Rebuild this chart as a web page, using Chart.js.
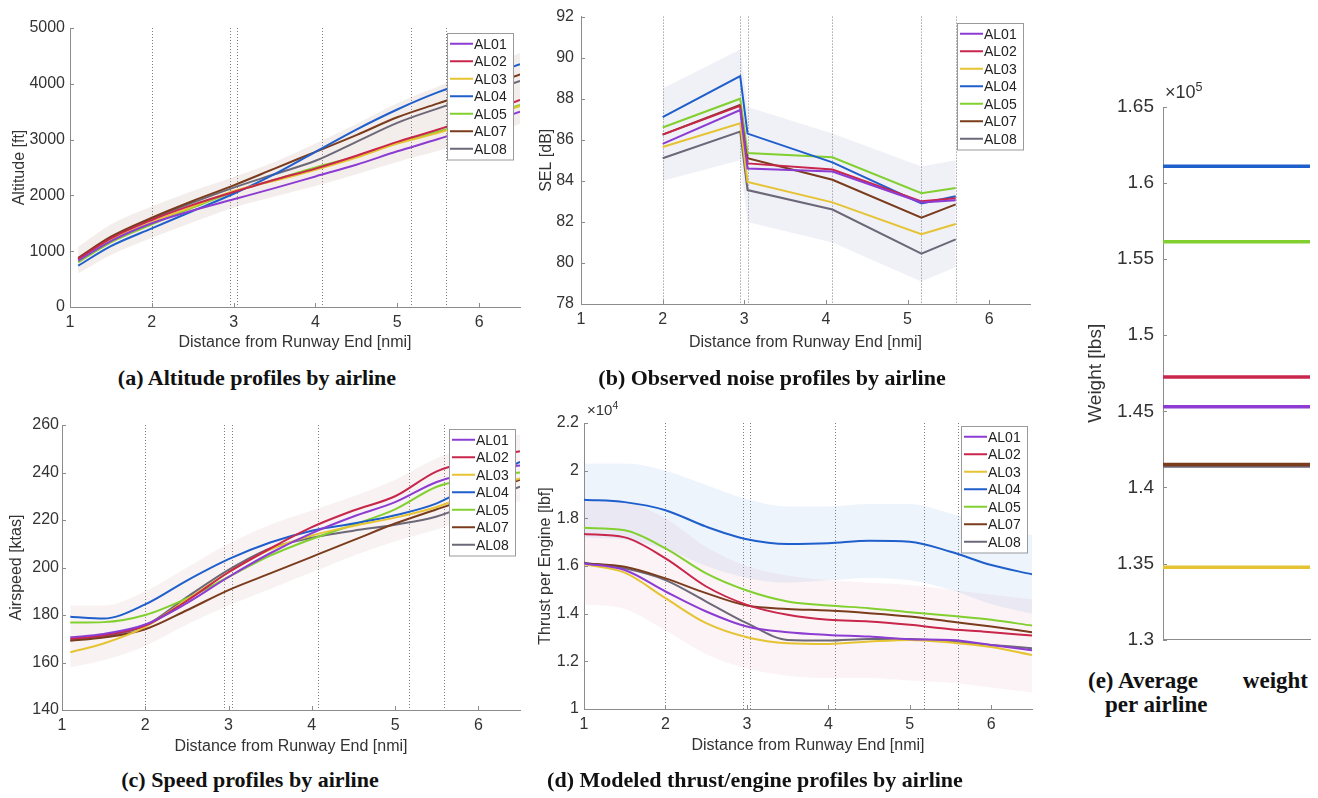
<!DOCTYPE html>
<html>
<head>
<meta charset="utf-8">
<script src="https://cdn.jsdelivr.net/npm/chart.js@4.4.1/dist/chart.umd.min.js"></script>
<style>
body { margin: 0; background: #fff; width: 1318px; height: 798px; position: relative; overflow: hidden; font-family: "Liberation Sans", Arial, sans-serif; }
canvas { position: absolute; }
.cap { position: absolute; font-family: "Liberation Serif", "Times New Roman", serif; font-weight: bold; font-size: 22px; color: #111; white-space: nowrap; transform: translate(-50%, -50%); }
.exp { position: absolute; color: #333; white-space: nowrap; }
.exp sup { font-size: 70%; }
.capE { position: absolute; font-family: "Liberation Serif", "Times New Roman", serif; font-weight: bold; font-size: 23px; line-height: 25px; color: #111; white-space: nowrap; }
</style>
</head>
<body>
<canvas id="alt" width="530" height="360" style="left:0;top:0"></canvas>
<canvas id="sel" width="520" height="360" style="left:520px;top:0"></canvas>
<canvas id="spd" width="530" height="360" style="left:0;top:400px"></canvas>
<canvas id="thr" width="520" height="360" style="left:520px;top:400px"></canvas>
<canvas id="wgt" width="258" height="600" style="left:1060px;top:60px"></canvas>

<div class="exp" style="left:587px;top:399px;font-size:15px">×10<sup>4</sup></div>
<div class="exp" style="left:1165px;top:80px;font-size:18px">×10<sup>5</sup></div>

<div class="cap" style="left:257px;top:378px">(a) Altitude profiles by airline</div>
<div class="cap" style="left:772px;top:378px">(b) Observed noise profiles by airline</div>
<div class="cap" style="left:250px;top:780px">(c) Speed profiles by airline</div>
<div class="cap" style="left:755px;top:780px">(d) Modeled thrust/engine profiles by airline</div>
<div class="capE" style="left:1088px;top:668px;width:220px;display:flex;justify-content:space-between"><span>(e) Average</span><span>weight</span></div>
<div class="capE" style="left:1105px;top:692px">per airline</div>

<script>
// airlines and colours
var airlines = ['AL01', 'AL02', 'AL03', 'AL04', 'AL05', 'AL07', 'AL08'];
var colors = ['#8c3cd2', '#c9264c', '#e6c332', '#1f5fcc', '#82d030', '#7a3c1c', '#6c6878'];

// x positions
var distSmooth = [1.1, 1.5, 2, 2.5, 3, 3.5, 4, 4.5, 5, 5.5, 6, 6.5];
var distThrust = [1, 1.5, 2, 2.5, 3, 3.5, 4, 4.5, 5, 5.5, 6, 6.5];
var monitorDist = [2.0, 2.95, 3.04, 4.08, 5.17, 5.59];
var distTicks = [1, 2, 3, 4, 5, 6];

// (a) altitude [ft]
var altitudeFt = [
    [830, 1180, 1500, 1730, 1930, 2130, 2340, 2550, 2790, 3010, 3250, 3500],
    [860, 1230, 1560, 1830, 2060, 2280, 2480, 2710, 2960, 3180, 3440, 3710],
    [840, 1200, 1520, 1800, 2080, 2260, 2460, 2680, 2930, 3120, 3370, 3600],
    [740, 1090, 1410, 1720, 2030, 2380, 2780, 3180, 3540, 3850, 4100, 4350],
    [800, 1160, 1480, 1780, 2060, 2280, 2500, 2700, 2940, 3140, 3380, 3620],
    [880, 1260, 1600, 1900, 2180, 2480, 2780, 3080, 3400, 3650, 3900, 4170],
    [850, 1240, 1580, 1870, 2140, 2380, 2620, 2960, 3300, 3560, 3800, 4050]
];
var altBandHi = [1080, 1480, 1800, 2080, 2330, 2600, 2930, 3280, 3650, 3950, 4250, 4550];
var altBandLo = [600, 930, 1240, 1520, 1780, 1980, 2170, 2380, 2600, 2800, 3030, 3280];
var altTicks = [0, 1000, 2000, 3000, 4000, 5000];

// (b) SEL [dB] at monitors
var selDb = [
    [85.8, 87.45, 84.6, 84.45, 82.95, 83.05],
    [86.25, 87.65, 84.85, 84.55, 83.0, 83.15],
    [85.65, 86.8, 83.95, 82.95, 81.4, 81.9],
    [87.1, 89.1, 86.3, 84.9, 82.9, 83.25],
    [86.6, 88.0, 85.35, 85.15, 83.4, 83.65],
    [86.25, 87.7, 85.1, 84.05, 82.2, 82.85],
    [85.1, 86.4, 83.55, 82.6, 80.45, 81.15]
];
var selBandHi = [88.5, 90.4, 87.6, 86.3, 84.7, 85.0];
var selBandLo = [84.0, 85.0, 82.0, 81.0, 79.1, 79.8];
var selTicks = [78, 80, 82, 84, 86, 88, 90, 92];

// (c) airspeed [ktas]
var speedKtas = [
    [170.6, 172, 176, 185, 196, 206, 214.5, 221.5, 227.5, 236, 240.5, 243],
    [170, 171.5, 175.5, 186, 198, 208, 217, 224, 230, 240.5, 245.5, 249],
    [164.3, 168, 175, 186.5, 198, 207.5, 213.5, 217.5, 221, 225.5, 232, 237.5],
    [179.3, 178.5, 184.5, 194.5, 203.5, 210.5, 215.5, 218.5, 222, 227, 236, 244.5],
    [176.8, 177, 180, 187, 196, 205, 212, 218, 224.5, 234, 238, 240],
    [169.2, 170.5, 174, 182, 190.5, 197.5, 204.5, 211.5, 218.5, 224.5, 230.5, 237],
    [169.5, 171, 175.5, 187.5, 199, 208, 212.5, 215.5, 218, 221.5, 228, 234]
];
var spdBandHi = [184, 184, 190, 200, 210, 218, 224, 230, 237, 246, 252, 256];
var spdBandLo = [158, 161, 167, 176, 184, 191, 198, 205, 211, 216, 222, 228];
var spdTicks = [140, 160, 180, 200, 220, 240, 260];

// (d) thrust per engine [lbf]
var thrustLbf = [
    [16110, 15830, 14930, 14090, 13460, 13220, 13110, 13040, 12930, 12900, 12690, 12460],
    [17340, 17200, 16320, 15140, 14370, 13950, 13740, 13670, 13530, 13350, 13220, 13080],
    [16070, 15720, 14650, 13600, 13010, 12760, 12730, 12830, 12900, 12790, 12600, 12270],
    [18780, 18680, 18340, 17650, 17120, 16920, 16950, 17060, 17020, 16600, 16040, 15650],
    [17600, 17500, 16740, 15690, 14970, 14510, 14340, 14230, 14060, 13910, 13740, 13500],
    [16110, 15970, 15480, 14860, 14340, 14200, 14130, 14020, 13880, 13670, 13460, 13220],
    [16140, 15900, 15410, 14510, 13600, 12900, 12870, 12940, 12940, 12830, 12690, 12550]
];
var thrBlueHi = [20300, 20300, 20000, 19400, 18800, 18500, 18500, 18600, 18600, 18200, 17700, 17300];
var thrBlueLo = [17200, 17100, 16700, 16000, 15500, 15300, 15400, 15500, 15400, 15000, 14400, 14000];
var thrRestHi = [18800, 18700, 18000, 16800, 16000, 15600, 15400, 15300, 15200, 15000, 14800, 14600];
var thrRestLo = [14400, 14200, 13300, 12300, 11700, 11400, 11300, 11300, 11200, 11100, 10900, 10700];
var thrTicks = [10000, 12000, 14000, 16000, 18000, 20000, 22000];

// (e) average weight [lbs]
var weightLbs = [145300, 147250, 134750, 161100, 156150, 141500, 141400];
var wgtTicks = [130000, 135000, 140000, 145000, 150000, 155000, 160000, 165000];

Chart.defaults.font.family = '"Liberation Sans", Arial, sans-serif';
Chart.defaults.color = '#333';

// dotted lines at the monitor positions
var refLines = {
    id: 'refLines',
    beforeDatasetsDraw: function(chart, args, opts) {
        if (!opts.values) return;
        var ctx = chart.ctx, a = chart.chartArea, x = chart.scales.x;
        ctx.save();
        ctx.strokeStyle = 'rgba(80,80,80,0.75)';
        ctx.lineWidth = 1;
        ctx.setLineDash([1, 2]);
        opts.values.forEach(function(v) {
            var px = Math.round(x.getPixelForValue(v)) + 0.5;
            ctx.beginPath();
            ctx.moveTo(px, a.top);
            ctx.lineTo(px, a.bottom);
            ctx.stroke();
        });
        ctx.restore();
    }
};

// matlab style legend box inside the axes
var boxLegend = {
    id: 'boxLegend',
    afterDatasetsDraw: function(chart, args, opts) {
        if (!opts.show) return;
        var ctx = chart.ctx, a = chart.chartArea;
        var items = chart.data.datasets.filter(function(d) { return d.label.charAt(0) != '_'; });
        var rowH = 17.5, w = 66, h = items.length * rowH + 4;
        var x0 = Math.round(a.right - opts.dx - w), y0 = Math.round(a.top + opts.dy);
        ctx.save();
        ctx.fillStyle = '#fff';
        ctx.fillRect(x0, y0, w, h);
        ctx.strokeStyle = '#9a9a9a';
        ctx.lineWidth = 1;
        ctx.strokeRect(x0 + 0.5, y0 + 0.5, w, h);
        ctx.font = '14px "Liberation Sans", Arial, sans-serif';
        ctx.textBaseline = 'middle';
        items.forEach(function(d, i) {
            var y = y0 + 2 + rowH * (i + 0.5);
            ctx.strokeStyle = d.borderColor;
            ctx.lineWidth = 2;
            ctx.beginPath();
            ctx.moveTo(x0 + 3, y);
            ctx.lineTo(x0 + 26, y);
            ctx.stroke();
            ctx.fillStyle = '#222';
            ctx.fillText(d.label, x0 + 27, y + 1);
        });
        ctx.restore();
    }
};

// small inward tick marks like matlab
var innerTicks = {
    id: 'innerTicks',
    afterDraw: function(chart, args, opts) {
        if (!opts.show) return;
        var ctx = chart.ctx, a = chart.chartArea;
        ctx.save();
        ctx.strokeStyle = '#8c8c8c';
        ctx.lineWidth = 1;
        ['x', 'y'].forEach(function(id) {
            var s = chart.scales[id];
            if (!s || s.type == 'category') return;
            s.ticks.forEach(function(t) {
                var p = Math.round(s.getPixelForValue(t.value)) + 0.5;
                ctx.beginPath();
                if (id == 'x') { ctx.moveTo(p, a.bottom); ctx.lineTo(p, a.bottom - 4); }
                else { ctx.moveTo(a.left, p); ctx.lineTo(a.left + 4, p); }
                ctx.stroke();
            });
        });
        ctx.restore();
    }
};
Chart.register(refLines, boxLegend, innerTicks);

function lineSets(xs, rows, smooth) {
    return rows.map(function(r, i) {
        return {
            label: airlines[i],
            data: r.map(function(v, j) { return {x: xs[j], y: v}; }),
            borderColor: colors[i],
            borderWidth: 2,
            pointRadius: 0,
            fill: false,
            cubicInterpolationMode: smooth ? 'monotone' : 'default',
            tension: 0
        };
    });
}

function bandSets(xs, hi, lo, color, smooth) {
    var mode = smooth ? 'monotone' : 'default';
    return [{
        label: '_hi',
        data: hi.map(function(v, j) { return {x: xs[j], y: v}; }),
        borderWidth: 0, pointRadius: 0, backgroundColor: color, fill: '+1',
        cubicInterpolationMode: mode, tension: 0
    }, {
        label: '_lo',
        data: lo.map(function(v, j) { return {x: xs[j], y: v}; }),
        borderWidth: 0, pointRadius: 0, fill: false,
        cubicInterpolationMode: mode, tension: 0
    }];
}

function xAxis(title, titlePad) {
    return {
        type: 'linear', min: 1, max: 6.5,
        grid: {display: false, drawTicks: false},
        border: {color: '#8c8c8c'},
        afterBuildTicks: function(s) { s.ticks = distTicks.map(function(v) { return {value: v}; }); },
        ticks: {font: {size: 16}, padding: 6, maxRotation: 0, autoSkip: false},
        title: {display: true, text: title, font: {size: 16}, color: '#333', padding: {top: 0, bottom: titlePad}}
    };
}

function yAxis(min, max, tickVals, fmt, title, titlePad, tickPad, size, titleSize) {
    return {
        min: min, max: max,
        grid: {display: false, drawTicks: false},
        border: {color: '#8c8c8c'},
        afterBuildTicks: function(s) { s.ticks = tickVals.map(function(v) { return {value: v}; }); },
        ticks: {font: {size: size}, padding: tickPad, callback: fmt},
        title: {display: true, text: title, font: {size: titleSize}, color: '#333', padding: {top: titlePad, bottom: 0}}
    };
}

function makePanel(id, area, datasets, xOpts, yOpts, plugins) {
    var cv = document.getElementById(id);
    var W = cv.width, H = cv.height;
    xOpts.afterFit = function(s) { s.height = H - area.bottom; };
    yOpts.afterFit = function(s) { s.width = area.left; };
    var pl = {legend: {display: false}, tooltip: {enabled: false}, innerTicks: {show: true}};
    for (var k in plugins) pl[k] = plugins[k];
    return new Chart(cv, {
        type: 'line',
        data: {labels: xOpts.type == 'category' ? datasets[0].data.map(function() { return ''; }) : undefined, datasets: datasets},
        options: {
            responsive: false,
            animation: false,
            layout: {padding: {top: area.top, right: W - area.right, left: 0, bottom: 0}},
            plugins: pl,
            scales: {x: xOpts, y: yOpts}
        }
    });
}

var plain = function(v) { return String(v); };

// (a)
makePanel('alt', {left: 70, top: 28, right: 520, bottom: 307},
    lineSets(distSmooth, altitudeFt, true).concat(bandSets(distSmooth, altBandHi, altBandLo, 'rgba(170,130,110,0.14)', true)),
    xAxis('Distance from Runway End [nmi]', 8),
    yAxis(0, 5000, altTicks, plain, 'Altitude [ft]', 10, 5, 16, 16),
    {refLines: {values: monitorDist}, boxLegend: {show: true, dx: 7, dy: 5}});

// (b)
makePanel('sel', {left: 61, top: 15, right: 510, bottom: 304},
    lineSets(monitorDist, selDb, false).concat(bandSets(monitorDist, selBandHi, selBandLo, 'rgba(140,140,190,0.13)', false)),
    xAxis('Distance from Runway End [nmi]', 8),
    yAxis(78, 92, selTicks, plain, 'SEL [dB]', 17, 7, 16, 16),
    {refLines: {values: monitorDist}, boxLegend: {show: true, dx: 7, dy: 6}});

// (c)
makePanel('spd', {left: 62, top: 25, right: 520, bottom: 310},
    lineSets(distSmooth, speedKtas, true).concat(bandSets(distSmooth, spdBandHi, spdBandLo, 'rgba(200,150,160,0.12)', true)),
    xAxis('Distance from Runway End [nmi]', 4),
    yAxis(140, 260, spdTicks, plain, 'Airspeed [ktas]', 7, 3, 16, 16),
    {refLines: {values: monitorDist}, boxLegend: {show: true, dx: 5, dy: 4}});

// (d)
makePanel('thr', {left: 64, top: 23, right: 512, bottom: 309},
    lineSets(distThrust, thrustLbf, true)
        .concat(bandSets(distThrust, thrBlueHi, thrBlueLo, 'rgba(120,170,230,0.13)', true))
        .concat(bandSets(distThrust, thrRestHi, thrRestLo, 'rgba(220,150,160,0.11)', true)),
    xAxis('Distance from Runway End [nmi]', 5),
    yAxis(10000, 22000, thrTicks, function(v) { return String(+(v / 1e4).toFixed(2)); }, 'Thrust per Engine [lbf]', 16, 5, 16, 16),
    {refLines: {values: monitorDist}, boxLegend: {show: true, dx: 5, dy: 3}});

// (e)
makePanel('wgt', {left: 103, top: 47, right: 250, bottom: 583},
    weightLbs.map(function(w, i) {
        return {label: airlines[i], data: [w, w], borderColor: colors[i], borderWidth: 3.5, pointRadius: 0, fill: false};
    }),
    {type: 'category', offset: false, grid: {display: false, drawTicks: false}, border: {color: '#8c8c8c'}, ticks: {display: false}},
    yAxis(130000, 165000, wgtTicks, function(v) { return String(+(v / 1e5).toFixed(2)); }, 'Weight [lbs]', 24, 9, 19, 19),
    {});
</script>
</body>
</html>
